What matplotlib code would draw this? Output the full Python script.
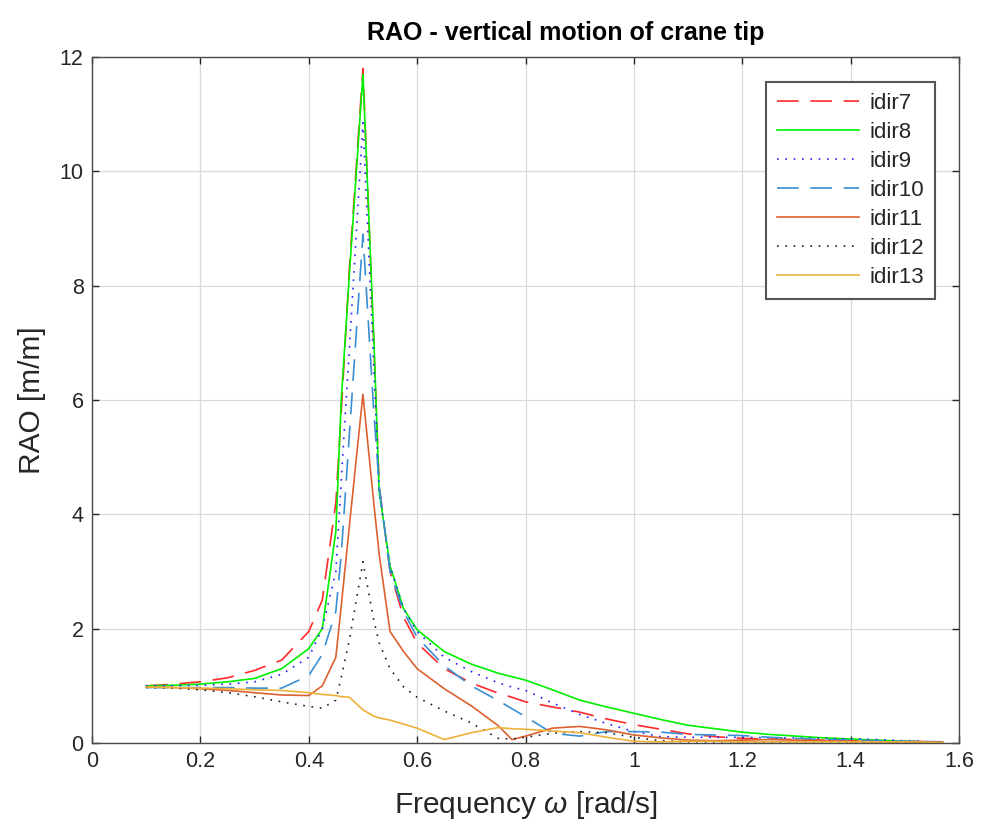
import matplotlib
matplotlib.use("Agg")
import matplotlib.pyplot as plt

plt.rcParams['font.family'] = ['Liberation Sans', 'DejaVu Sans']
plt.rcParams['mathtext.fontset'] = 'custom'
plt.rcParams['mathtext.it'] = 'Liberation Sans:italic'
plt.rcParams['mathtext.rm'] = 'Liberation Sans'

# Frequencies [rad/s]
omega = [0.10, 0.15, 0.20, 0.25, 0.30, 0.35, 0.40, 0.425, 0.45, 0.46, 0.475, 0.50,
         0.52, 0.53, 0.55, 0.575, 0.60, 0.65, 0.70, 0.75, 0.775, 0.80, 0.85, 0.90,
         0.95, 1.00, 1.05, 1.10, 1.15, 1.20, 1.25, 1.30, 1.35, 1.40, 1.45, 1.50, 1.57]

idir7 = [1.00, 1.03, 1.07, 1.14, 1.27, 1.45, 1.95, 2.50, 4.20, 5.80, 8.30, 11.80,
         7.00, 4.50, 3.00, 2.20, 1.75, 1.30, 1.05, 0.87, 0.80, 0.72, 0.63, 0.54,
         0.42, 0.32, 0.24, 0.16, 0.11, 0.08, 0.07, 0.06, 0.05, 0.04, 0.03, 0.03, 0.02]

idir8 = [1.00, 1.01, 1.03, 1.07, 1.13, 1.30, 1.65, 2.00, 3.70, 6.00, 8.20, 11.70,
         7.10, 4.40, 3.10, 2.35, 1.98, 1.60, 1.38, 1.22, 1.16, 1.10, 0.93, 0.75,
         0.63, 0.52, 0.41, 0.31, 0.25, 0.19, 0.15, 0.12, 0.09, 0.07, 0.05, 0.03, 0.01]

idir9 = [1.00, 1.00, 1.01, 1.03, 1.07, 1.20, 1.50, 2.00, 3.00, 4.60, 6.90, 10.85,
         6.60, 4.40, 3.10, 2.35, 1.95, 1.50, 1.25, 1.05, 0.98, 0.92, 0.70, 0.50,
         0.34, 0.20, 0.11, 0.10, 0.10, 0.10, 0.09, 0.09, 0.08, 0.07, 0.06, 0.04, 0.02]

idir10 = [0.97, 0.97, 0.97, 0.97, 0.96, 0.96, 1.18, 1.55, 2.30, 3.30, 5.40, 8.90,
          5.80, 4.50, 3.00, 2.30, 1.85, 1.35, 1.00, 0.74, 0.60, 0.46, 0.17, 0.12,
          0.20, 0.20, 0.19, 0.15, 0.14, 0.13, 0.10, 0.08, 0.06, 0.05, 0.04, 0.03, 0.02]

idir11 = [0.98, 0.97, 0.95, 0.92, 0.88, 0.84, 0.83, 1.00, 1.50, 2.40, 3.80, 6.10,
          4.20, 3.30, 1.95, 1.60, 1.30, 0.95, 0.65, 0.30, 0.06, 0.12, 0.26, 0.29,
          0.23, 0.14, 0.09, 0.05, 0.04, 0.05, 0.06, 0.05, 0.04, 0.03, 0.02, 0.02, 0.01]

idir12 = [0.97, 0.96, 0.93, 0.88, 0.81, 0.72, 0.64, 0.61, 0.75, 1.15, 1.80, 3.17,
          2.15, 1.75, 1.30, 0.98, 0.80, 0.56, 0.35, 0.08, 0.07, 0.10, 0.17, 0.20,
          0.18, 0.10, 0.04, 0.02, 0.02, 0.02, 0.02, 0.02, 0.02, 0.02, 0.02, 0.02, 0.01]

idir13 = [0.98, 0.97, 0.96, 0.95, 0.93, 0.92, 0.88, 0.85, 0.83, 0.81, 0.80, 0.58,
          0.47, 0.44, 0.40, 0.33, 0.26, 0.06, 0.18, 0.27, 0.25, 0.24, 0.21, 0.18,
          0.10, 0.03, 0.02, 0.03, 0.03, 0.02, 0.02, 0.02, 0.02, 0.02, 0.02, 0.02, 0.01]

labels = ['idir7', 'idir8', 'idir9', 'idir10', 'idir11', 'idir12', 'idir13']
title = 'RAO - vertical motion of crane tip'
xlabel = r'Frequency $\omega$ [rad/s]'
ylabel = 'RAO [m/m]'
xticks = [0, 0.2, 0.4, 0.6, 0.8, 1.0, 1.2, 1.4, 1.6]
xticklabels = ['0', '0.2', '0.4', '0.6', '0.8', '1', '1.2', '1.4', '1.6']
yticks = [0, 2, 4, 6, 8, 10, 12]

fig = plt.figure(figsize=(9.81, 8.21), dpi=100)
ax = fig.add_axes([92/981, 1-743/821, (959-92)/981, (743-57)/821])

lw = 1.2
ax.plot(omega, idir7, color='#FF2A2A', lw=lw, dashes=(13, 7), label=labels[0])
ax.plot(omega, idir8, color='#00F000', lw=lw, label=labels[1])
ax.plot(omega, idir9, color='#2020FF', lw=lw, dashes=(1, 4), label=labels[2])
ax.plot(omega, idir10, color='#3A8FD2', lw=lw, dashes=(13, 7), label=labels[3])
ax.plot(omega, idir11, color='#DC6030', lw=lw, label=labels[4])
ax.plot(omega, idir12, color='#202020', lw=lw, dashes=(1, 4), label=labels[5])
ax.plot(omega, idir13, color='#EDB13A', lw=lw, label=labels[6])

ax.set_xlim(0, 1.6)
ax.set_ylim(0, 12)
ax.set_xticks(xticks)
ax.set_xticklabels(xticklabels)
ax.set_yticks(yticks)
ax.grid(True, color='#DADADA', lw=0.9)
ax.set_axisbelow(True)
for s in ax.spines.values():
    s.set_color('#4A4A4A')
    s.set_linewidth(1.0)
ax.tick_params(direction='in', length=5, width=1.0, color='#262626',
               top=True, right=True, labelsize=15.5, labelcolor='#262626', pad=6)

ax.set_title(title, fontsize=18, fontweight='bold', color='black', pad=12,
             x=(566 - 92) / 867)
ax.set_xlabel(xlabel, fontsize=21.5, color='#262626', labelpad=12)
ax.set_ylabel(ylabel, fontsize=21.5, color='#262626', labelpad=10)

leg = ax.legend(loc='upper right', bbox_to_anchor=(1 - 24/867, 1 - 25/686),
                borderaxespad=0, fontsize=16,
                handlelength=3.7, handletextpad=0.45, labelspacing=0.36,
                borderpad=0.5, fancybox=False, framealpha=1)
leg.get_frame().set_edgecolor('#555555')
leg.get_frame().set_linewidth(1.5)
for t in leg.get_texts():
    t.set_color('#262626')

fig.savefig('out.png', dpi=100)
